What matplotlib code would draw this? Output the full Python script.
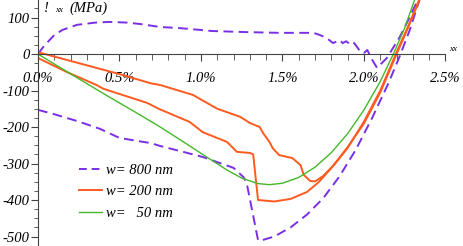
import matplotlib
matplotlib.use("Agg")
import matplotlib.pyplot as plt
from matplotlib.ticker import MultipleLocator, FixedLocator
from matplotlib.lines import Line2D

# ---- data (strain in %, stress in MPa) ----
w800_up_x = [0, 0.03, 0.06, 0.1, 0.15, 0.24, 0.35, 0.44, 0.55, 0.63, 0.75, 0.87, 1.07, 1.28, 1.48,
             1.69, 1.73, 1.77, 1.81, 1.85, 1.87, 1.89, 1.92, 1.94, 1.98, 2.0, 2.02, 2.05, 2.08,
             2.14, 2.22, 2.28, 2.33]
w800_up_y = [0, 18, 33, 52, 66, 80, 86, 88, 86, 82, 74, 71, 63, 60, 58,
             58, 52, 44, 30, 38, 30, 35, 25, 30, 5, 3, 11, -16, -38,
             -11, 47, 101, 148]
w800_lo_x = [0, 0.1, 0.25, 0.38, 0.5, 0.69, 0.75, 0.89, 1.01, 1.2, 1.26, 1.28, 1.35, 1.36,
             1.45, 1.55, 1.65, 1.75, 1.85, 1.95, 2.05, 2.15, 2.22, 2.28, 2.34]
w800_lo_y = [-153, -165, -185, -205, -230, -244, -252, -268, -282, -312, -337, -353, -510, -512,
             -500, -475, -440, -395, -335, -262, -175, -80, -5, 65, 148]

w200_up_x = [0, 0.25, 0.5, 0.69, 0.75, 0.95, 1.1, 1.24, 1.3, 1.36, 1.38, 1.42, 1.44, 1.48,
             1.56, 1.61, 1.63, 1.67, 1.70, 1.75, 1.82, 1.9, 2.0, 2.1, 2.2, 2.27, 2.34]
w200_up_y = [5, -25, -55, -80, -85, -112, -150, -172, -189, -200, -216, -241, -258, -277,
             -285, -304, -331, -348, -349, -334, -302, -257, -185, -100, 5, 75, 150]
w200_lo_x = [0, 0.18, 0.36, 0.4, 0.67, 0.74, 0.93, 1.01, 1.16, 1.22, 1.3, 1.32, 1.35, 1.45,
             1.55, 1.65, 1.72, 1.8, 1.9, 2.0, 2.1, 2.2, 2.27, 2.34]
w200_lo_y = [-11, -50, -85, -95, -134, -150, -186, -214, -241, -268, -271, -275, -400, -404,
             -397, -378, -352, -312, -255, -190, -105, 0, 72, 148]

w50_x = [0, 0.18, 0.4, 0.6, 0.75, 0.89, 1.01, 1.16, 1.25, 1.35, 1.42, 1.5, 1.6, 1.7, 1.8, 1.9,
         2.0, 2.1, 2.18, 2.25, 2.31]
w50_y = [0, -49, -108, -160, -200, -240, -275, -318, -340, -355, -358, -354, -338, -310, -270,
         -218, -153, -75, 0, 72, 148]

legend_labels = ["w= 800 nm", "w= 200 nm", "w=   50 nm"]
xtick_vals = [0, 0.5, 1.0, 1.5, 2.0, 2.5]
ytick_vals = [100, 0, -100, -200, -300, -400, -500]

# ---- style ----
c_purple = "#7a2ee6"
c_orange = "#ff5a1f"
c_green = "#44b82a"
W, H = 464, 246
serif = "Liberation Serif"

fig = plt.figure(figsize=(W / 100, H / 100), dpi=100)
ax = fig.add_axes([38 / W, 0, (445.5 - 38) / W, 1])
ax.set_xlim(0, 2.5)
ax.set_ylim(-526, 148)

dash = (0, (5, 2.8))
ax.plot(w800_up_x, w800_up_y, color=c_purple, lw=1.4, ls=dash)
ax.plot(w800_lo_x, w800_lo_y, color=c_purple, lw=1.4, ls=dash)
ax.plot(w200_up_x, w200_up_y, color=c_orange, lw=1.4)
ax.plot(w200_lo_x, w200_lo_y, color=c_orange, lw=1.4)
ax.plot(w50_x, w50_y, color=c_green, lw=1.0)

for s in ["top", "right"]:
    ax.spines[s].set_visible(False)
ax.spines["bottom"].set_position(("data", 0))
ax.spines["bottom"].set_color("#444444")
ax.spines["left"].set_color("#444444")

ax.xaxis.set_major_locator(FixedLocator(xtick_vals))
ax.xaxis.set_minor_locator(MultipleLocator(0.1))
ax.yaxis.set_major_locator(FixedLocator(ytick_vals))
ax.yaxis.set_minor_locator(MultipleLocator(25))
ax.set_xticklabels([f"{v:.1f}%" for v in xtick_vals])
ax.set_yticklabels([str(v).replace("\u2212", "-") for v in ytick_vals])
ax.tick_params(axis="x", which="major", direction="out", length=5, color="#444444", pad=8)
ax.tick_params(axis="x", which="minor", direction="out", length=4, color="#444444")
ax.tick_params(axis="y", which="major", direction="out", length=5, color="#444444", pad=1)
ax.tick_params(axis="y", which="minor", direction="out", length=3, color="#444444")
for lab in ax.get_xticklabels() + ax.get_yticklabels():
    lab.set_fontfamily(serif)
    lab.set_fontstyle("italic")
    lab.set_fontsize(10.5)

# axis titles
fig.text(44 / W, 1 - 8 / H, "!", fontfamily=serif, fontstyle="italic", fontsize=10.5, va="center")
fig.text(55 / W, 1 - 10 / H, "xx", fontfamily=serif, fontstyle="italic", fontsize=6.5, va="center")
fig.text(69 / W, 1 - 8 / H, "(MPa)", fontfamily=serif, fontstyle="italic", fontsize=10.5, va="center")
fig.text(449 / W, 1 - 49 / H, "xx", fontfamily=serif, fontstyle="italic", fontsize=6.5, va="center")

handles = [Line2D([], [], color=c_purple, lw=1.4, ls=(0, (4, 2.5))),
           Line2D([], [], color=c_orange, lw=1.4),
           Line2D([], [], color=c_green, lw=1.0)]
ax.legend(handles, legend_labels, loc="upper left", bbox_to_anchor=(79 / W, 1 - 164 / H),
          bbox_transform=fig.transFigure, frameon=False, borderpad=0, borderaxespad=0,
          handlelength=1.55, handletextpad=0.3, labelspacing=0.55,
          prop={"family": serif, "style": "italic", "size": 10.5})

fig.savefig("out.png", dpi=100)
